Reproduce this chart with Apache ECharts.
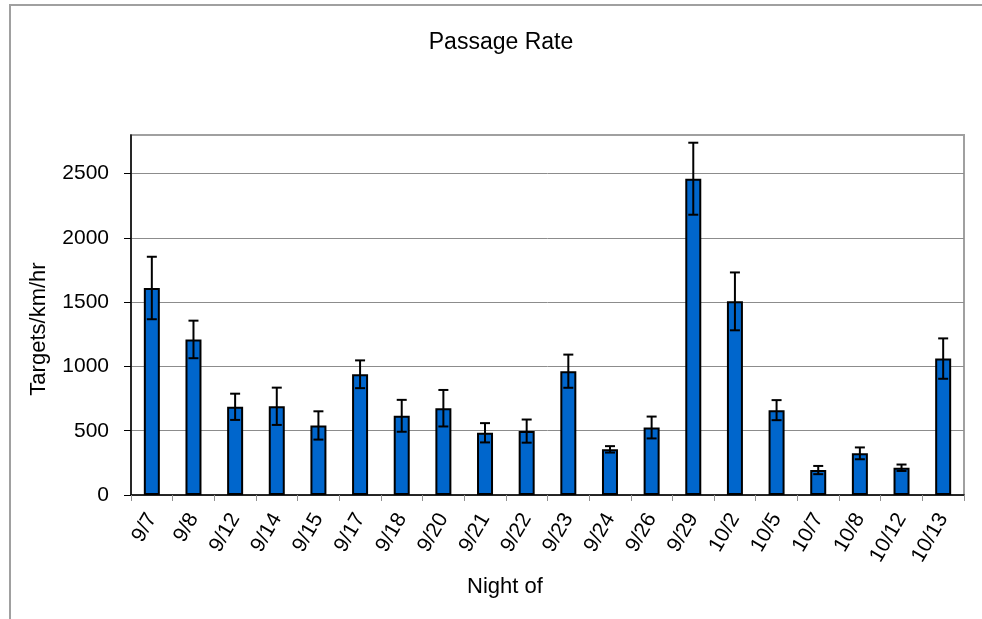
<!DOCTYPE html>
<html>
<head>
<meta charset="utf-8">
<script src="https://cdn.jsdelivr.net/npm/echarts@6/dist/echarts.min.js"></script>
<style>
html,body{margin:0;padding:0;background:#fff;}
#chart{width:982px;height:619px;}
</style>
</head>
<body>
<div id="chart"></div>
<script>
const categories = ['9/7','9/8','9/12','9/14','9/15','9/17','9/18','9/20','9/21','9/22','9/23','9/24','9/26','9/29','10/2','10/5','10/7','10/8','10/12','10/13'];
const rates = [1610, 1210, 686, 690, 541, 939, 616, 675, 484, 497, 963, 355, 525, 2460, 1506, 660, 194, 324, 212, 1061];
const errors = [243, 146, 102, 145, 110, 108, 124, 142, 75, 90, 129, 25, 85, 280, 225, 78, 32, 46, 25, 157];
const yTicks = [0, 500, 1000, 1500, 2000, 2500];

const FONT = '"Liberation Sans", Arial, sans-serif';
const errData = rates.map((v, i) => [i, v - errors[i], v + errors[i]]);

const chart = echarts.init(document.getElementById('chart'), null, {renderer: 'canvas'});
chart.setOption({
  animation: false,
  backgroundColor: '#ffffff',
  textStyle: {fontFamily: FONT},
  graphic: [
    {type: 'rect', shape: {x: 10, y: 5, width: 1000, height: 700},
     style: {fill: 'none', stroke: '#a0a0a0', lineWidth: 2}, silent: true, z: -10},
    {type: 'text', style: {text: 'Passage Rate', x: 501, y: 43, align: 'center', verticalAlign: 'middle', font: '23px ' + FONT, fill: '#000'}},
    {type: 'text', style: {text: 'Night of', x: 505, y: 587, align: 'center', verticalAlign: 'middle', font: '22px ' + FONT, fill: '#000'}},
    {type: 'text', rotation: Math.PI / 2, x: 39, y: 329, style: {text: 'Targets/km/hr', x: 0, y: 0, align: 'center', verticalAlign: 'middle', font: '22px ' + FONT, fill: '#000'}}
  ],
  grid: {left: 131, top: 135, width: 833, height: 360, show: true, borderColor: '#a0a0a0', borderWidth: 2, backgroundColor: 'transparent'},
  xAxis: {
    type: 'category',
    data: categories,
    axisLine: {lineStyle: {color: '#000', width: 1.5}},
    axisTick: {show: true, length: 6, lineStyle: {color: '#909090', width: 1}},
    axisLabel: {rotate: 60, fontSize: 21, color: '#000', fontFamily: FONT, margin: 20, interval: 0},
    splitLine: {show: false}
  },
  yAxis: {
    type: 'value',
    min: 0, max: 2800, interval: 500,
    axisLine: {show: true, lineStyle: {color: '#000', width: 1.5}},
    axisTick: {show: true, length: 7, customValues: yTicks, lineStyle: {color: '#000', width: 1}},
    axisLabel: {fontSize: 21, color: '#000', fontFamily: FONT, margin: 22, customValues: yTicks,
      formatter: v => (yTicks.indexOf(v) >= 0 ? String(v) : '')},
    splitLine: {show: true, lineStyle: {color: '#8c8c8c', width: 1}}
  },
  series: [
    {
      type: 'bar',
      data: rates,
      barWidth: 16,
      itemStyle: {color: '#0066cc', borderColor: '#000', borderWidth: 2},
      z: 2
    },
    {
      type: 'custom',
      data: errData,
      z: 3,
      renderItem: function (params, api) {
        const idx = api.value(0);
        const lo = api.coord([idx, api.value(1)]);
        const hi = api.coord([idx, api.value(2)]);
        const hw = 5;
        const st = {stroke: '#000', lineWidth: 2};
        return {
          type: 'group',
          children: [
            {type: 'line', shape: {x1: hi[0], y1: hi[1], x2: lo[0], y2: lo[1]}, style: st},
            {type: 'line', shape: {x1: hi[0] - hw, y1: hi[1], x2: hi[0] + hw, y2: hi[1]}, style: st},
            {type: 'line', shape: {x1: lo[0] - hw, y1: lo[1], x2: lo[0] + hw, y2: lo[1]}, style: st}
          ]
        };
      }
    }
  ]
});
</script>
</body>
</html>
